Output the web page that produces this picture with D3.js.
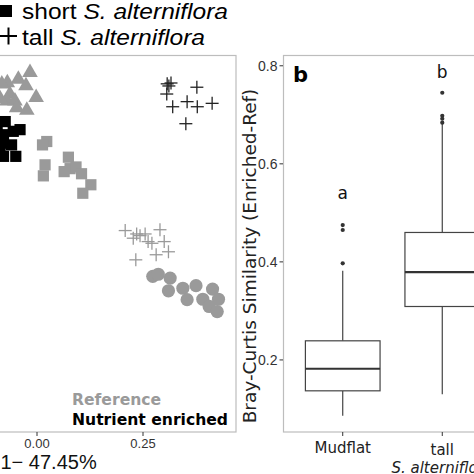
<!DOCTYPE html>
<html>
<head>
<meta charset="utf-8">
<script src="https://cdn.jsdelivr.net/npm/d3@7"></script>
<style>
  html, body { margin: 0; padding: 0; background: #fff; }
  svg { display: block; }
</style>
</head>
<body>
<svg id="chart" width="474" height="474"></svg>
<script>
// ---------- Panel a: PCoA scatter (PC1 / PC2 values) ----------
const refTriangleX = [-0.0165, -0.070, -0.044, -0.026, -0.083, -0.064, -0.071, -0.002, -0.052, -0.024, -0.048, -0.087];
const refTriangleY = [0.404, 0.380, 0.388, 0.373, 0.377, 0.353, 0.337, 0.345, 0.337, 0.315, 0.321, 0.342];

const enrShortX = [-0.075, -0.040, -0.056, -0.079, -0.083, -0.060, -0.079, -0.050, -0.087, -0.094];
const enrShortY = [0.286, 0.267, 0.263, 0.255, 0.235, 0.231, 0.204, 0.204, 0.219, 0.271];

const refShortX = [0.023, 0.013, 0.019, 0.015, 0.074, 0.064, 0.078, 0.092, 0.105, 0.127, 0.108];
const refShortY = [0.239, 0.231, 0.184, 0.158, 0.202, 0.168, 0.175, 0.179, 0.163, 0.137, 0.117];

const enrTallX = [0.307, 0.316, 0.311, 0.306, 0.377, 0.320, 0.354, 0.378, 0.413, 0.351];
const enrTallY = [0.375, 0.377, 0.370, 0.351, 0.367, 0.321, 0.333, 0.321, 0.329, 0.281];

const refTallX = [0.208, 0.235, 0.227, 0.255, 0.243, 0.262, 0.271, 0.290, 0.300, 0.233, 0.281, 0.310];
const refTallY = [0.029, 0.021, 0.011, 0.021, 0.017, 0.003, -0.001, 0.031, 0.003, -0.040, -0.028, -0.021];

const refMudX = [0.273, 0.286, 0.314, 0.310, 0.344, 0.375, 0.354, 0.391, 0.414, 0.428, 0.406, 0.425];
const refMudY = [-0.079, -0.074, -0.083, -0.113, -0.107, -0.101, -0.134, -0.133, -0.109, -0.133, -0.150, -0.162];

const pcXTicks = [0.00, 0.25];
const pcXLabel = "1\u2212 47.45%";
const legendTop = ["short", "tall"];
const legendBottom = ["Reference", "Nutrient enriched"];

// ---------- Panel b: boxplot ----------
const boxCategories = ["Mudflat", "tall"];
const boxLower   = [0.086, 0.130];
const boxQ1      = [0.137, 0.309];
const boxMedian  = [0.182, 0.379];
const boxQ3      = [0.239, 0.460];
const boxUpper   = [0.382, 0.681];
const boxOutliers = [[0.397, 0.465, 0.475], [0.684, 0.692, 0.698, 0.745]];
const sigLetters = ["a", "b"];
const sigLetterY = [0.528, 0.775];
const bYTicks = [0.2, 0.4, 0.6, 0.8];

const GRAY = "#9a9a9a";
const BORDER = "#bdbdbd";
const svg = d3.select("#chart");

// ================= Panel a =================
const ax = d3.scaleLinear().domain([-0.1, 0.47]).range([-5.4, 236.3]);
const ay = d3.scaleLinear().domain([-0.446, 0.443]).range([432, 55]);

const pa = svg.append("g");
const triSym = d3.symbol().type(d3.symbolTriangle).size(105);
pa.selectAll(".tri").data(d3.range(refTriangleX.length)).join("path")
  .attr("d", triSym)
  .attr("transform", i => `translate(${ax(refTriangleX[i])},${ay(refTriangleY[i]) + 1})`)
  .attr("fill", GRAY);
function squares(xs, ys, col) {
  pa.selectAll(null).data(d3.range(xs.length)).join("rect")
    .attr("x", i => ax(xs[i]) - 5.6).attr("y", i => ay(ys[i]) - 5.6)
    .attr("width", 11.2).attr("height", 11.2).attr("fill", col);
}
squares(refShortX, refShortY, GRAY);
squares(enrShortX, enrShortY, "#000");
pa.selectAll(".circ").data(d3.range(refMudX.length)).join("circle")
  .attr("cx", i => ax(refMudX[i])).attr("cy", i => ay(refMudY[i]))
  .attr("r", 6.6).attr("fill", GRAY);
function pluses(xs, ys, col) {
  const g = pa.append("g").attr("stroke", col).attr("stroke-width", 1.3);
  d3.range(xs.length).forEach(i => {
    const cx = ax(xs[i]), cy = ay(ys[i]), h = 6.5;
    g.append("line").attr("x1", cx - h).attr("x2", cx + h).attr("y1", cy).attr("y2", cy);
    g.append("line").attr("x1", cx).attr("x2", cx).attr("y1", cy - h).attr("y2", cy + h);
  });
}
pluses(refTallX, refTallY, GRAY);
pluses(enrTallX, enrTallY, "#222");

svg.append("rect").attr("x", -2).attr("y", 55.5).attr("width", 238).attr("height", 376.5)
  .attr("fill", "none").attr("stroke", BORDER).attr("stroke-width", 1.2);

const axG = svg.append("g");
pcXTicks.forEach(t => {
  axG.append("line").attr("x1", ax(t)).attr("x2", ax(t)).attr("y1", 432).attr("y2", 436)
    .attr("stroke", "#333").attr("stroke-width", 1);
  axG.append("text").attr("x", ax(t)).attr("y", 448).attr("text-anchor", "middle")
    .attr("font-family", "Liberation Sans, Arial, sans-serif").attr("font-size", 13)
    .attr("fill", "#333").text(t.toFixed(2));
});
svg.append("text").attr("x", 0.5).attr("y", 469)
  .attr("font-family", "Liberation Sans, Arial, sans-serif").attr("font-size", 20)
  .attr("fill", "#111").text(pcXLabel);

svg.append("text").attr("x", 72).attr("y", 405)
  .attr("font-family", "DejaVu Sans, sans-serif").attr("font-weight", "bold").attr("font-size", 15.6)
  .attr("fill", GRAY).text(legendBottom[0]);
svg.append("text").attr("x", 72).attr("y", 425)
  .attr("font-family", "DejaVu Sans, sans-serif").attr("font-weight", "bold").attr("font-size", 15.6)
  .attr("fill", "#000").text(legendBottom[1]);

// top legend
svg.append("rect").attr("x", 0).attr("y", 5).attr("width", 12).attr("height", 12).attr("fill", "#000");
const lt1 = svg.append("text").attr("x", 22).attr("y", 18.5)
  .attr("font-family", "Liberation Sans, Arial, sans-serif").attr("font-size", 22).attr("fill", "#000")
  .attr("textLength", 206).attr("lengthAdjust", "spacingAndGlyphs");
lt1.append("tspan").text(legendTop[0] + " ");
lt1.append("tspan").attr("font-style", "italic").text("S. alterniflora");
svg.append("line").attr("x1", 0).attr("x2", 17).attr("y1", 36).attr("y2", 36).attr("stroke", "#000").attr("stroke-width", 2);
svg.append("line").attr("x1", 8.5).attr("x2", 8.5).attr("y1", 27.5).attr("y2", 44.5).attr("stroke", "#000").attr("stroke-width", 2);
const lt2 = svg.append("text").attr("x", 22).attr("y", 45)
  .attr("font-family", "Liberation Sans, Arial, sans-serif").attr("font-size", 22).attr("fill", "#000")
  .attr("textLength", 183).attr("lengthAdjust", "spacingAndGlyphs");
lt2.append("tspan").text(legendTop[1] + " ");
lt2.append("tspan").attr("font-style", "italic").text("S. alterniflora");

// ================= Panel b =================
const by = d3.scaleLinear().domain([0.053, 0.822]).range([432, 55]);
const bx = d3.scalePoint().domain(boxCategories).range([283, 502]).padding(0.6);
const bw = bx.step() * 0.75;
const BOXC = "#444";

const pb = svg.append("g");
boxCategories.forEach((c, i) => {
  const cx = bx(c);
  pb.append("line").attr("x1", cx).attr("x2", cx).attr("y1", by(boxLower[i])).attr("y2", by(boxQ1[i]))
    .attr("stroke", BOXC).attr("stroke-width", 1.2);
  pb.append("line").attr("x1", cx).attr("x2", cx).attr("y1", by(boxQ3[i])).attr("y2", by(boxUpper[i]))
    .attr("stroke", BOXC).attr("stroke-width", 1.2);
  pb.append("rect").attr("x", cx - bw / 2).attr("y", by(boxQ3[i]))
    .attr("width", bw).attr("height", by(boxQ1[i]) - by(boxQ3[i]))
    .attr("fill", "#fff").attr("stroke", BOXC).attr("stroke-width", 1.2);
  pb.append("line").attr("x1", cx - bw / 2).attr("x2", cx + bw / 2)
    .attr("y1", by(boxMedian[i])).attr("y2", by(boxMedian[i]))
    .attr("stroke", "#333").attr("stroke-width", 2.2);
  boxOutliers[i].forEach(o => {
    pb.append("circle").attr("cx", cx).attr("cy", by(o)).attr("r", 2.1).attr("fill", "#333");
  });
  pb.append("text").attr("x", cx).attr("y", by(sigLetterY[i])).attr("text-anchor", "middle")
    .attr("font-family", "DejaVu Sans, sans-serif").attr("font-size", 17).attr("fill", "#111")
    .text(sigLetters[i]);
});

svg.append("rect").attr("x", 283.5).attr("y", 55.5).attr("width", 200).attr("height", 376.5)
  .attr("fill", "none").attr("stroke", BORDER).attr("stroke-width", 1.2);

bYTicks.forEach(t => {
  svg.append("line").attr("x1", 279.5).attr("x2", 283).attr("y1", by(t)).attr("y2", by(t))
    .attr("stroke", "#333").attr("stroke-width", 1);
  svg.append("text").attr("x", 277.5).attr("y", by(t) + 5).attr("text-anchor", "end")
    .attr("font-family", "Liberation Sans Narrow, Arial Narrow, sans-serif").attr("font-size", 14)
    .attr("fill", "#333").text(t.toFixed(1));
});
boxCategories.forEach(c => {
  svg.append("line").attr("x1", bx(c)).attr("x2", bx(c)).attr("y1", 432).attr("y2", 436)
    .attr("stroke", "#333").attr("stroke-width", 1);
});
svg.append("text").attr("x", bx("Mudflat")).attr("y", 453).attr("text-anchor", "middle")
  .attr("font-family", "DejaVu Sans, sans-serif").attr("font-size", 15).attr("fill", "#222").text("Mudflat");
svg.append("text").attr("x", bx("tall")).attr("y", 455).attr("text-anchor", "middle")
  .attr("font-family", "DejaVu Sans, sans-serif").attr("font-size", 15).attr("fill", "#222").text("tall");
svg.append("text").attr("x", bx("tall")).attr("y", 473).attr("text-anchor", "middle")
  .attr("font-family", "DejaVu Sans, sans-serif").attr("font-style", "italic").attr("font-size", 15)
  .attr("fill", "#222").text("S. alterniflora");

svg.append("text").attr("transform", "translate(256,256) rotate(-90)").attr("text-anchor", "middle")
  .attr("font-family", "DejaVu Sans, sans-serif").attr("font-size", 18.5).attr("fill", "#222")
  .text("Bray-Curtis Similarity (Enriched-Ref)");

svg.append("text").attr("x", 293).attr("y", 82)
  .attr("font-family", "DejaVu Sans, sans-serif").attr("font-weight", "bold").attr("font-size", 21)
  .attr("fill", "#000").text("b");
</script>
</body>
</html>
